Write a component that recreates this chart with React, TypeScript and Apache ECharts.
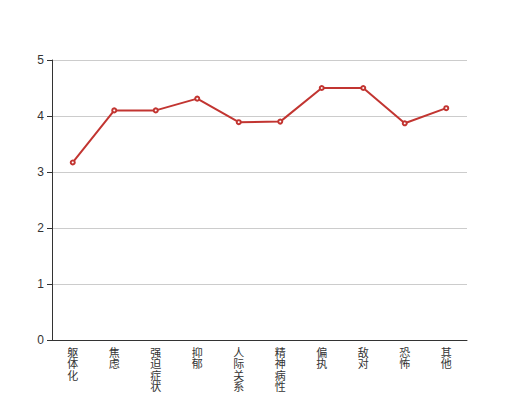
import React, { useEffect, useRef } from "react";
import * as echarts from "echarts";

const categories = ["躯体化", "焦虑", "强迫症状", "抑郁", "人际关系敏感", "精神病性", "偏执", "敌对", "恐怖", "其他"];
const values = [3.17, 4.1, 4.1, 4.31, 3.89, 3.9, 4.5, 4.5, 3.87, 4.14];
const yTicks = { min: 0, max: 5, interval: 1 };

export default function App() {
  const ref = useRef<HTMLDivElement>(null);
  useEffect(() => {
    const chart = echarts.init(ref.current!, null, { renderer: "svg" });
    chart.setOption({
      animation: false,
      grid: { left: 52, right: 53, top: 60, bottom: 60, containLabel: false, outerBoundsMode: "none" },
      xAxis: {
        type: "category",
        data: categories,
        axisLine: { lineStyle: { color: "#333" } },
        axisTick: { lineStyle: { color: "#333" } },
        axisLabel: {
          interval: 0,
          color: "#333",
          fontSize: 11,
          lineHeight: 11.5,
          margin: 6,
          fontFamily: "Noto Sans CJK SC",
          formatter: (v: string) => v.split("").join("\n"),
        },
      },
      yAxis: {
        type: "value",
        min: yTicks.min,
        max: yTicks.max,
        interval: yTicks.interval,
        axisLine: { show: true, lineStyle: { color: "#333" } },
        axisTick: { show: true, lineStyle: { color: "#333" } },
        axisLabel: { color: "#333", fontSize: 12 },
        splitLine: { lineStyle: { color: "#ccc" } },
      },
      series: [
        {
          type: "line",
          data: values,
          symbol: "emptyCircle",
          symbolSize: 4,
          itemStyle: { color: "#c23531" },
          lineStyle: { color: "#c23531", width: 2 },
        },
      ],
    });
    return () => chart.dispose();
  }, []);
  return <div ref={ref} style={{ width: 520, height: 400, margin: -8 }} />;
}
